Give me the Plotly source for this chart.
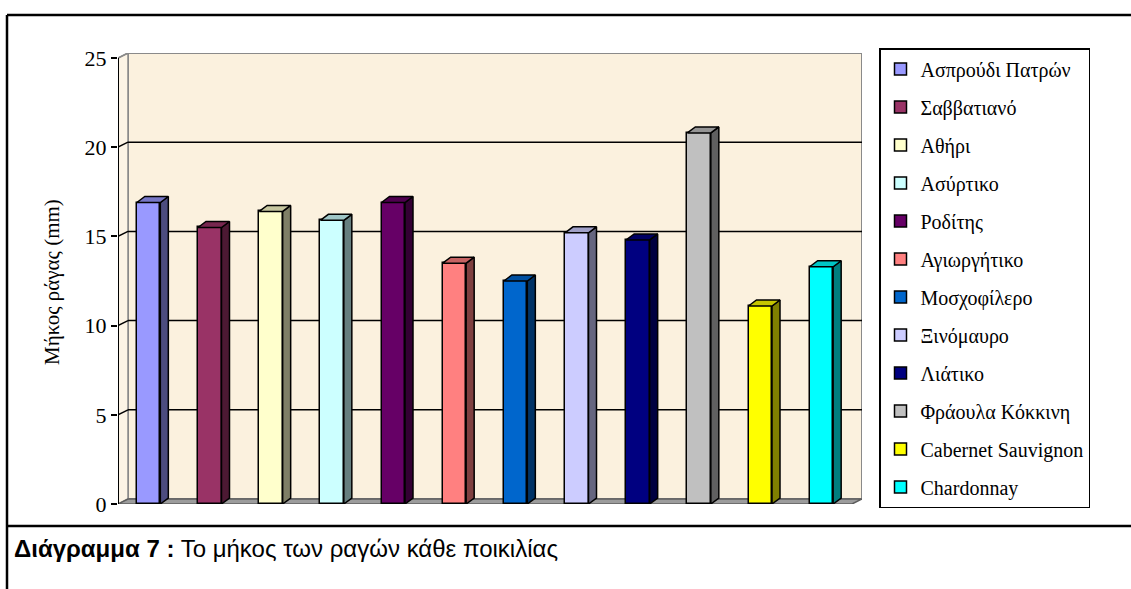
import plotly.graph_objects as go

# Data: mean berry length per grape variety
varieties = [
    "Ασπρούδι Πατρών", "Σαββατιανό", "Αθήρι", "Ασύρτικο", "Ροδίτης",
    "Αγιωργήτικο", "Μοσχοφίλερο", "Ξινόμαυρο", "Λιάτικο",
    "Φράουλα Κόκκινη", "Cabernet Sauvignon", "Chardonnay",
]
lengths_mm = [16.9, 15.5, 16.4, 15.9, 16.9, 13.5, 12.5, 15.2, 14.8, 20.8, 11.1, 13.3]
y_ticks = [0, 5, 10, 15, 20, 25]
y_title = "Μήκος ράγας (mm)"
caption_bold = "Διάγραμμα 7 :"
caption_text = " Το μήκος των ραγών κάθε ποικιλίας"

# Front-face colours of the columns
face_colors = [
    "#9999FF", "#993366", "#FFFFCC", "#CCFFFF", "#660066", "#FF8080",
    "#0066CC", "#CCCCFF", "#000080", "#C0C0C0", "#FFFF00", "#00FFFF",
]


def shade(hex_color, f):
    h = hex_color.lstrip("#")
    r, g, b = (int(h[i:i + 2], 16) for i in (0, 2, 4))
    return "#{:02X}{:02X}{:02X}".format(int(r * f), int(g * f), int(b * f))


# Page / plot-area geometry (pixels)
W, H = 1131, 589
M_L, M_R, M_T, M_B = 118, 269, 53, 85
plot_w = W - M_L - M_R
plot_h = H - M_T - M_B

n = len(varieties)
x_lo = -0.5
y_max = y_ticks[-1]

# Perspective offsets expressed in axis units
px_per_x = (plot_w - 10) / n
px_per_y = (plot_h - 5) / y_max
wall_dx = 10 / px_per_x
wall_dy = 5 / px_per_y
bar_w = 23.5 / px_per_x
bar_dx = 8 / px_per_x
bar_dy = 6 / px_per_y

x_hi = x_lo + n
x_range = [x_lo, x_hi + wall_dx]
y_range = [0, y_max + wall_dy]

fig = go.Figure()

# Front faces of the columns (one series per variety, as in the legend)
for i, (name, val, col) in enumerate(zip(varieties, lengths_mm, face_colors)):
    fig.add_trace(go.Bar(
        x=[i], y=[val], width=bar_w, name=name, legendgroup=name,
        marker=dict(color=col, line=dict(color="black", width=1.5)),
        hovertemplate=name + ": %{y} mm<extra></extra>",
    ))

# Side and top faces giving the columns their depth
for i, (name, val, col) in enumerate(zip(varieties, lengths_mm, face_colors)):
    xr = i + bar_w / 2
    xl = i - bar_w / 2
    fig.add_trace(go.Scatter(
        x=[xr, xr + bar_dx, xr + bar_dx, xr, xr],
        y=[0, bar_dy, val + bar_dy, val, 0],
        mode="lines", fill="toself", fillcolor=shade(col, 0.5),
        line=dict(color="black", width=1.5), legendgroup=name,
        showlegend=False, hoverinfo="skip",
    ))
    fig.add_trace(go.Scatter(
        x=[xl, xr, xr + bar_dx, xl + bar_dx, xl],
        y=[val, val, val + bar_dy, val + bar_dy, val],
        mode="lines", fill="toself", fillcolor=shade(col, 0.78),
        line=dict(color="black", width=1.5), legendgroup=name,
        showlegend=False, hoverinfo="skip",
    ))

shapes = []
wall_fill = "#FBF1DE"
edge = "#8A8A8A"

# Back wall
shapes.append(dict(type="rect", xref="x", yref="y", layer="below",
                   x0=x_lo + wall_dx, x1=x_hi + wall_dx, y0=wall_dy, y1=y_max + wall_dy,
                   fillcolor=wall_fill, line=dict(color=edge, width=2)))
# Left side wall
shapes.append(dict(type="path", xref="x", yref="y", layer="below",
                   path=f"M{x_lo},0 L{x_lo + wall_dx},{wall_dy} L{x_lo + wall_dx},{y_max + wall_dy} "
                        f"L{x_lo},{y_max} Z",
                   fillcolor="#FCF4E5", line=dict(color=edge, width=1.5)))
# Floor
shapes.append(dict(type="path", xref="x", yref="y", layer="below",
                   path=f"M{x_lo},0 L{x_hi},0 L{x_hi + wall_dx},{wall_dy} L{x_lo + wall_dx},{wall_dy} Z",
                   fillcolor="#9C9C9C", line=dict(color="#5E5E5E", width=1.5)))

# Gridlines on the back wall plus their slants across the side wall
for t in y_ticks[1:]:
    col = "black" if t < y_max else edge
    if t < y_max:
        shapes.append(dict(type="line", xref="x", yref="y", layer="below",
                           x0=x_lo + wall_dx, x1=x_hi + wall_dx, y0=t + wall_dy, y1=t + wall_dy,
                           line=dict(color="black", width=1.5)))
    shapes.append(dict(type="line", xref="x", yref="y", layer="below",
                       x0=x_lo, x1=x_lo + wall_dx, y0=t, y1=t + wall_dy,
                       line=dict(color=col, width=1.5)))

# Value axis line at the front edge
shapes.append(dict(type="line", xref="x", yref="y",
                   x0=x_lo, x1=x_lo, y0=0, y1=y_max,
                   line=dict(color="black", width=2)))


def px_to_paper_x(px):
    return (px - M_L) / plot_w


def px_to_paper_y(py):
    return (H - M_B - py) / plot_h


# Outer frame and caption divider
frame_l = px_to_paper_x(7)
frame_r = px_to_paper_x(W + 2)
frame_t = px_to_paper_y(15)
frame_sep = px_to_paper_y(526)
frame_b = px_to_paper_y(H + 2)
for seg in [
    (frame_l, frame_t, frame_r, frame_t),
    (frame_l, frame_t, frame_l, frame_b),
    (frame_l, frame_sep, frame_r, frame_sep),
]:
    shapes.append(dict(type="line", xref="paper", yref="paper",
                       x0=seg[0], y0=seg[1], x1=seg[2], y1=seg[3],
                       line=dict(color="black", width=2.5)))

serif = "Liberation Serif, DejaVu Serif, serif"
sans = "Liberation Sans, Arial, sans-serif"

annotations = [
    dict(text=y_title, xref="paper", yref="paper",
         x=px_to_paper_x(52), y=px_to_paper_y(282), textangle=-90,
         showarrow=False, xanchor="center", yanchor="middle",
         font=dict(family=serif, size=21, color="black")),
    dict(text=f"<b>{caption_bold}</b>{caption_text}", xref="paper", yref="paper",
         x=px_to_paper_x(12), y=px_to_paper_y(548),
         showarrow=False, xanchor="left", yanchor="middle",
         font=dict(family=sans, size=24, color="black")),
]

fig.update_layout(
    width=W, height=H,
    margin=dict(l=M_L, r=M_R, t=M_T, b=M_B, pad=0),
    paper_bgcolor="white", plot_bgcolor="rgba(0,0,0,0)",
    barmode="overlay", bargap=0,
    showlegend=True,
    legend=dict(
        x=px_to_paper_x(879), y=px_to_paper_y(48), xanchor="left", yanchor="top",
        bgcolor="white", bordercolor="black", borderwidth=1.5,
        font=dict(family=serif, size=20, color="black"),
        tracegroupgap=9, traceorder="grouped", maxheight=560,
    ),
    xaxis=dict(range=x_range, showgrid=False, zeroline=False, showline=False,
               showticklabels=False, ticks="", fixedrange=True),
    yaxis=dict(range=y_range, tickvals=y_ticks, showgrid=False, zeroline=False,
               showline=False, ticks="outside", ticklen=6, tickwidth=1.5,
               tickcolor="black", tickfont=dict(family=serif, size=22, color="black"),
               fixedrange=True),
    shapes=shapes,
    annotations=annotations,
)

fig.write_html("out.html")
